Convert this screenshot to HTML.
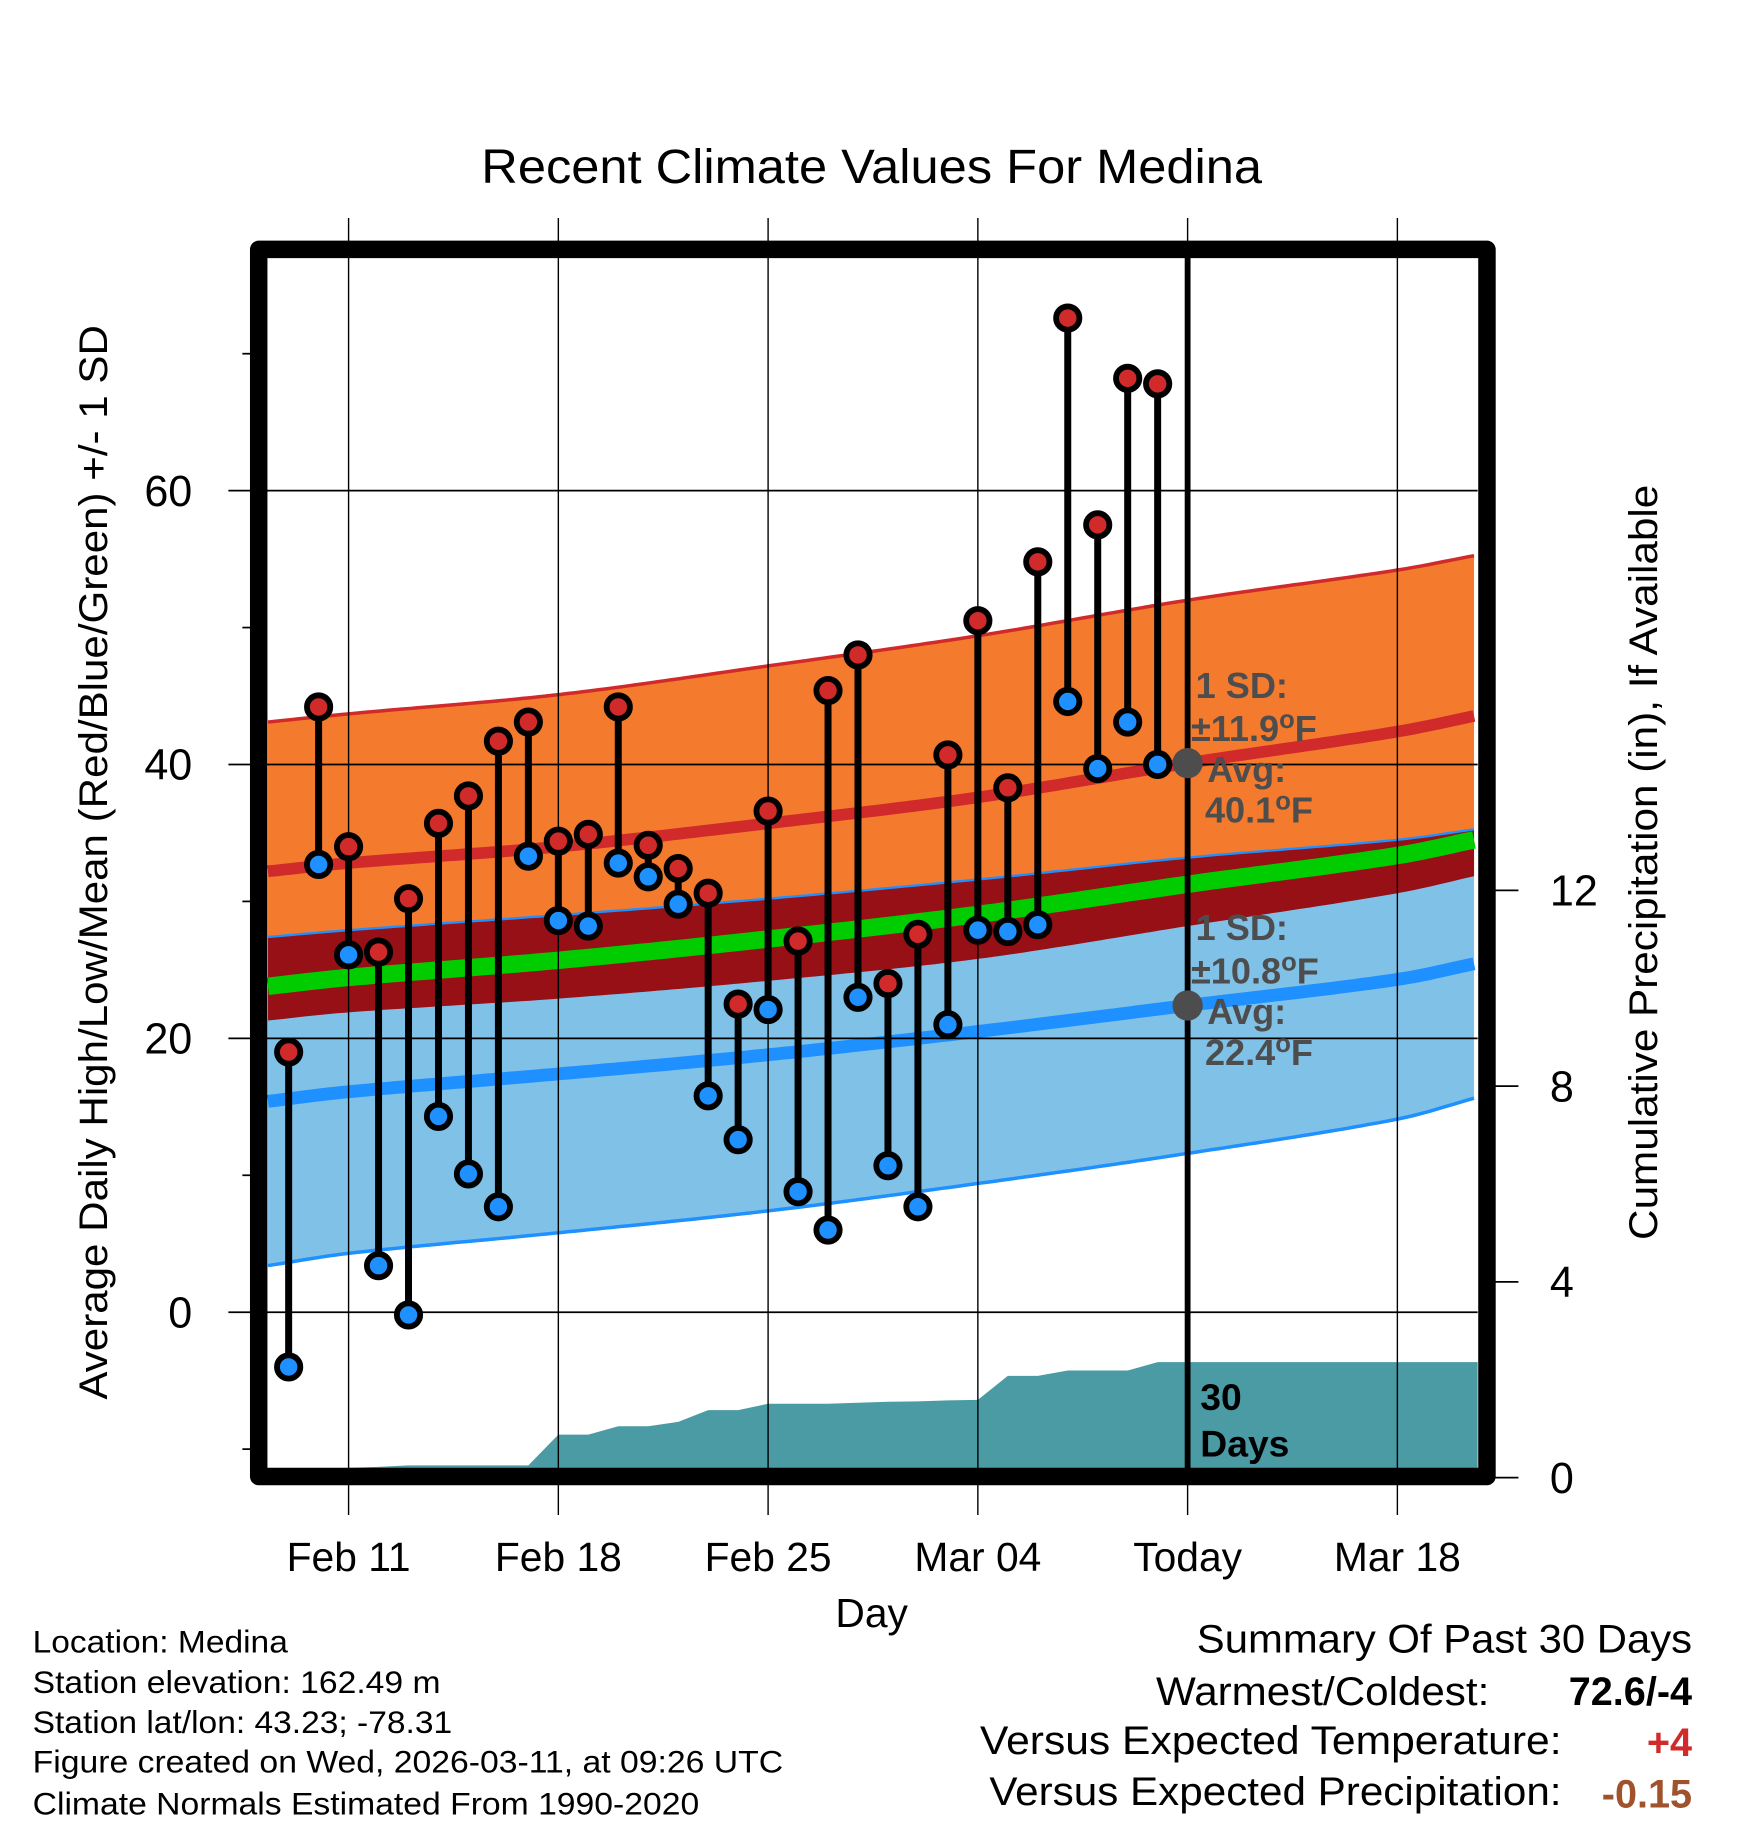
<!DOCTYPE html>
<html><head><meta charset="utf-8"><style>
html,body{margin:0;padding:0;background:#fff;}
svg{display:block;font-family:"Liberation Sans",Arial,sans-serif;}
</style></head><body>
<svg id="chart" width="1748" height="1828" viewBox="0 0 1500 1568.6" xmlns="http://www.w3.org/2000/svg">
<defs><clipPath id="plotclip"><rect x="229" y="221" width="1040" height="1040"/></clipPath></defs>
<rect x="0" y="0" width="1500" height="1569" fill="#fff"/>
<text x="748" y="157" font-size="41" text-anchor="middle" textLength="670" lengthAdjust="spacingAndGlyphs">Recent Climate Values For Medina</text>
<g id="bands" clip-path="url(#plotclip)"></g>
<g id="grid"></g>
<g id="marks" clip-path="url(#plotclip)"></g>
<g id="annot"></g>
<rect x="222" y="214" width="1054" height="1053" fill="none" stroke="#000" stroke-width="15" stroke-linejoin="round"/>
<g id="axes"></g>
<text transform="translate(92,740) rotate(-90)" font-size="34" text-anchor="middle" textLength="922" lengthAdjust="spacingAndGlyphs">Average Daily High/Low/Mean (Red/Blue/Green) +/- 1 SD</text>
<text transform="translate(1422,740) rotate(-90)" font-size="34" text-anchor="middle" textLength="648" lengthAdjust="spacingAndGlyphs">Cumulative Precipitation (in), If Available</text>
<text x="748" y="1396" font-size="35" text-anchor="middle">Day</text>
<g font-size="27">
<text x="28" y="1418" textLength="219" lengthAdjust="spacingAndGlyphs">Location: Medina</text>
<text x="28" y="1453" textLength="350" lengthAdjust="spacingAndGlyphs">Station elevation: 162.49 m</text>
<text x="28" y="1487" textLength="360" lengthAdjust="spacingAndGlyphs">Station lat/lon: 43.23; -78.31</text>
<text x="28" y="1521" textLength="644" lengthAdjust="spacingAndGlyphs">Figure created on Wed, 2026-03-11, at 09:26 UTC</text>
<text x="28" y="1557" textLength="572" lengthAdjust="spacingAndGlyphs">Climate Normals Estimated From 1990-2020</text>
</g>
<g font-size="34">
<text x="1027" y="1418" textLength="425" lengthAdjust="spacingAndGlyphs">Summary Of Past 30 Days</text>
<text x="992" y="1463" textLength="286" lengthAdjust="spacingAndGlyphs">Warmest/Coldest:</text>
<text x="1452" y="1463" text-anchor="end" font-weight="bold">72.6/-4</text>
<text x="841" y="1505" textLength="499" lengthAdjust="spacingAndGlyphs">Versus Expected Temperature:</text>
<text x="1452" y="1507" text-anchor="end" font-weight="bold" fill="#d02a2a">+4</text>
<text x="849" y="1549" textLength="491" lengthAdjust="spacingAndGlyphs">Versus Expected Precipitation:</text>
<text x="1452" y="1551" text-anchor="end" font-weight="bold" fill="#a0522d">-0.15</text>
</g>
</svg>
<script>
// ---- data ----
const days = ["Feb 09","Feb 10","Feb 11","Feb 12","Feb 13","Feb 14","Feb 15","Feb 16","Feb 17","Feb 18","Feb 19","Feb 20","Feb 21","Feb 22","Feb 23","Feb 24","Feb 25","Feb 26","Feb 27","Feb 28","Mar 01","Mar 02","Mar 03","Mar 04","Mar 05","Mar 06","Mar 07","Mar 08","Mar 09","Mar 10"];
const highs = [19.0,44.2,34.0,26.3,30.2,35.7,37.7,41.7,43.1,34.4,34.9,44.2,34.1,32.4,30.6,22.5,36.6,27.1,45.4,48.0,24.0,27.6,40.7,50.5,38.3,54.8,72.6,57.5,68.2,67.8];
const lows = [-4.0,32.7,26.1,3.4,-0.2,14.3,10.1,7.7,33.3,28.6,28.2,32.8,31.8,29.8,15.8,12.6,22.1,8.8,6.0,23.0,10.7,7.7,21.0,27.9,27.8,28.3,44.6,39.7,43.1,40.0];
const precip = [0.19,0.19,0.20,0.22,0.25,0.25,0.25,0.25,0.25,0.88,0.88,1.05,1.05,1.14,1.38,1.38,1.51,1.51,1.51,1.53,1.55,1.56,1.58,1.59,2.08,2.08,2.19,2.19,2.19,2.36];
const normDays = [-0.69,2,9,16,23,30,37,39.68];
const hiMean = [32.2,32.8,34.0,35.7,37.6,40.1,42.4,43.6];
const hiSd = [10.9,10.9,11.1,11.5,11.8,11.9,11.8,11.7];
const loMean = [15.4,16.1,17.4,18.8,20.5,22.4,24.3,25.5];
const loSd = [12.0,11.8,11.6,11.4,11.1,10.8,10.2,9.8];
const xTickDays = [2,9,16,23,30,37];
const xTickLabels = ["Feb 11","Feb 18","Feb 25","Mar 04","Today","Mar 18"];
const yTicks = [0,20,40,60];
const yMinor = [-10,10,30,50,70];
const y2Ticks = [0,4,8,12];
const todayDay = 30;
const todayHi = 40.1, todayHiSd = 11.9, todayLo = 22.4, todayLoSd = 10.8;
// ---- scales ----
const X = d => 247.7 + d*25.714;
const Y = v => 1126 - v*11.75;
const Y2 = p => 1268 - p*42;
const NS = "http://www.w3.org/2000/svg";
function mk(tag, attrs, parent){const e=document.createElementNS(NS,tag);for(const k in attrs)e.setAttribute(k,attrs[k]);parent.appendChild(e);return e;}
function interp(arr,d){
 const n=normDays.length;
 let i=0;while(i<n-2&&d>normDays[i+1])i++;
 const x0=normDays[i],x1=normDays[i+1],h=x1-x0,t=(d-x0)/h;
 const slope=k=>{if(k==0)return (arr[1]-arr[0])/(normDays[1]-normDays[0]);if(k==n-1)return (arr[n-1]-arr[n-2])/(normDays[n-1]-normDays[n-2]);return (arr[k+1]-arr[k-1])/(normDays[k+1]-normDays[k-1]);};
 const m0=slope(i)*h,m1=slope(i+1)*h,t2=t*t,t3=t2*t;
 return (2*t3-3*t2+1)*arr[i]+(t3-2*t2+t)*m0+(-2*t3+3*t2)*arr[i+1]+(t3-t2)*m1;
}
const samp=[];for(let d=normDays[0];d<=normDays[normDays.length-1]+0.001;d+=0.25)samp.push(d);
const line = f => samp.map(d=>X(d).toFixed(1)+","+Y(f(d)).toFixed(1));
const band = (fu,fl) => line(fu).concat(line(fl).reverse()).join(" ");
const hm=d=>interp(hiMean,d), hs=d=>interp(hiSd,d), lm=d=>interp(loMean,d), ls=d=>interp(loSd,d);
const bands=document.getElementById("bands");
let e;
e=mk("polygon",{points:band(d=>hm(d)+hs(d),d=>hm(d)-hs(d)),fill:"#f47a2e"},bands);

e=mk("polygon",{points:band(d=>lm(d)+ls(d),d=>lm(d)-ls(d)),fill:"#80c1e8"},bands);

e=mk("polygon",{points:band(d=>lm(d)+ls(d),d=>hm(d)-hs(d)),fill:"#961016"},bands);

e=mk("polyline",{points:line(d=>hm(d)+hs(d)).join(" "),fill:"none",stroke:"#d02a2a","stroke-width":3},bands);

e=mk("polyline",{points:line(d=>lm(d)+ls(d)).join(" "),fill:"none",stroke:"#1e90ff","stroke-width":2},bands);

e=mk("polyline",{points:line(d=>lm(d)-ls(d)).join(" "),fill:"none",stroke:"#1e90ff","stroke-width":3},bands);

e=mk("polyline",{points:line(hm).join(" "),fill:"none",stroke:"#d02a2a","stroke-width":10},bands);

e=mk("polyline",{points:line(lm).join(" "),fill:"none",stroke:"#1e90ff","stroke-width":11},bands);

e=mk("polyline",{points:line(d=>(hm(d)+lm(d))/2).join(" "),fill:"none",stroke:"#00cc00","stroke-width":15},bands);

// precip area
let pts=[X(normDays[0])+","+Y2(0),X(normDays[0])+","+Y2(precip[0])];
precip.forEach((p,i)=>pts.push(X(i)+","+Y2(p)));
pts.push(X(normDays[normDays.length-1])+","+Y2(precip[precip.length-1]));
pts.push(X(normDays[normDays.length-1])+","+Y2(0));
e=mk("polygon",{points:pts.join(" "),fill:"#4a9ba4"},bands);

// grid
const grid=document.getElementById("grid");
yTicks.forEach(v=>{e=mk("line",{x1:196,x2:1268,y1:Y(v),y2:Y(v),stroke:"#000","stroke-width":1.5},grid);
});
xTickDays.forEach(d=>{e=mk("line",{x1:X(d),x2:X(d),y1:187,y2:1300,stroke:"#000","stroke-width":1.2},grid);
});
// marks
const marks=document.getElementById("marks");
e=mk("line",{x1:X(todayDay),x2:X(todayDay),y1:220,y2:1262,stroke:"#000","stroke-width":5},marks);

highs.forEach((h,i)=>{
 e=mk("line",{x1:X(i),x2:X(i),y1:Y(h),y2:Y(lows[i]),stroke:"#000","stroke-width":6},marks);
 
});
highs.forEach((h,i)=>{
 e=mk("circle",{cx:X(i),cy:Y(h),r:10,fill:"#d02a2a",stroke:"#000","stroke-width":5},marks);
 
 e=mk("circle",{cx:X(i),cy:Y(lows[i]),r:10,fill:"#1e90ff",stroke:"#000","stroke-width":5},marks);
 
});
// annotations
const an=document.getElementById("annot");
[[todayHi,todayHiSd],[todayLo,todayLoSd]].forEach(([m,s])=>{
 e=mk("circle",{cx:X(todayDay),cy:Y(m),r:13,fill:"#4d4d4d"},an);
 
 const g=mk("g",{fill:"#4d4d4d","font-weight":"bold","font-size":"31"},an);
 
 const y0=Y(m);
 mk("text",{x:1026,y:y0-56},g).textContent="1 SD:";
 let t=mk("text",{x:1022,y:y0-19},g);t.innerHTML='±'+s.toFixed(1)+'<tspan dy="-11" font-size="22">o</tspan><tspan dy="11">F</tspan>';
 mk("text",{x:1036,y:y0+16},g).textContent="Avg:";
 t=mk("text",{x:1034,y:y0+51},g);t.innerHTML=m.toFixed(1)+'<tspan dy="-11" font-size="22">o</tspan><tspan dy="11">F</tspan>';
});
e=mk("text",{x:1030,y:1210,"font-weight":"bold","font-size":"32"},an);e.textContent="30";

e=mk("text",{x:1030,y:1250,"font-weight":"bold","font-size":"32"},an);e.textContent="Days";

// axes
const ax=document.getElementById("axes");
yTicks.forEach(v=>{e=mk("text",{x:165,y:Y(v)+13,"font-size":"37","text-anchor":"end"},ax);e.textContent=v;
});
yMinor.forEach(v=>{e=mk("line",{x1:208,x2:216,y1:Y(v),y2:Y(v),stroke:"#000","stroke-width":1.5},ax);
});
y2Ticks.forEach(p=>{e=mk("line",{x1:1283,x2:1303,y1:Y2(p),y2:Y2(p),stroke:"#000","stroke-width":1.5},ax);

e=mk("text",{x:1330,y:Y2(p)+13,"font-size":"37"},ax);e.textContent=p;
});
xTickDays.forEach((d,i)=>{e=mk("text",{x:X(d),y:1348,"font-size":"35","text-anchor":"middle"},ax);e.textContent=xTickLabels[i];
});
</script>
</body></html>
